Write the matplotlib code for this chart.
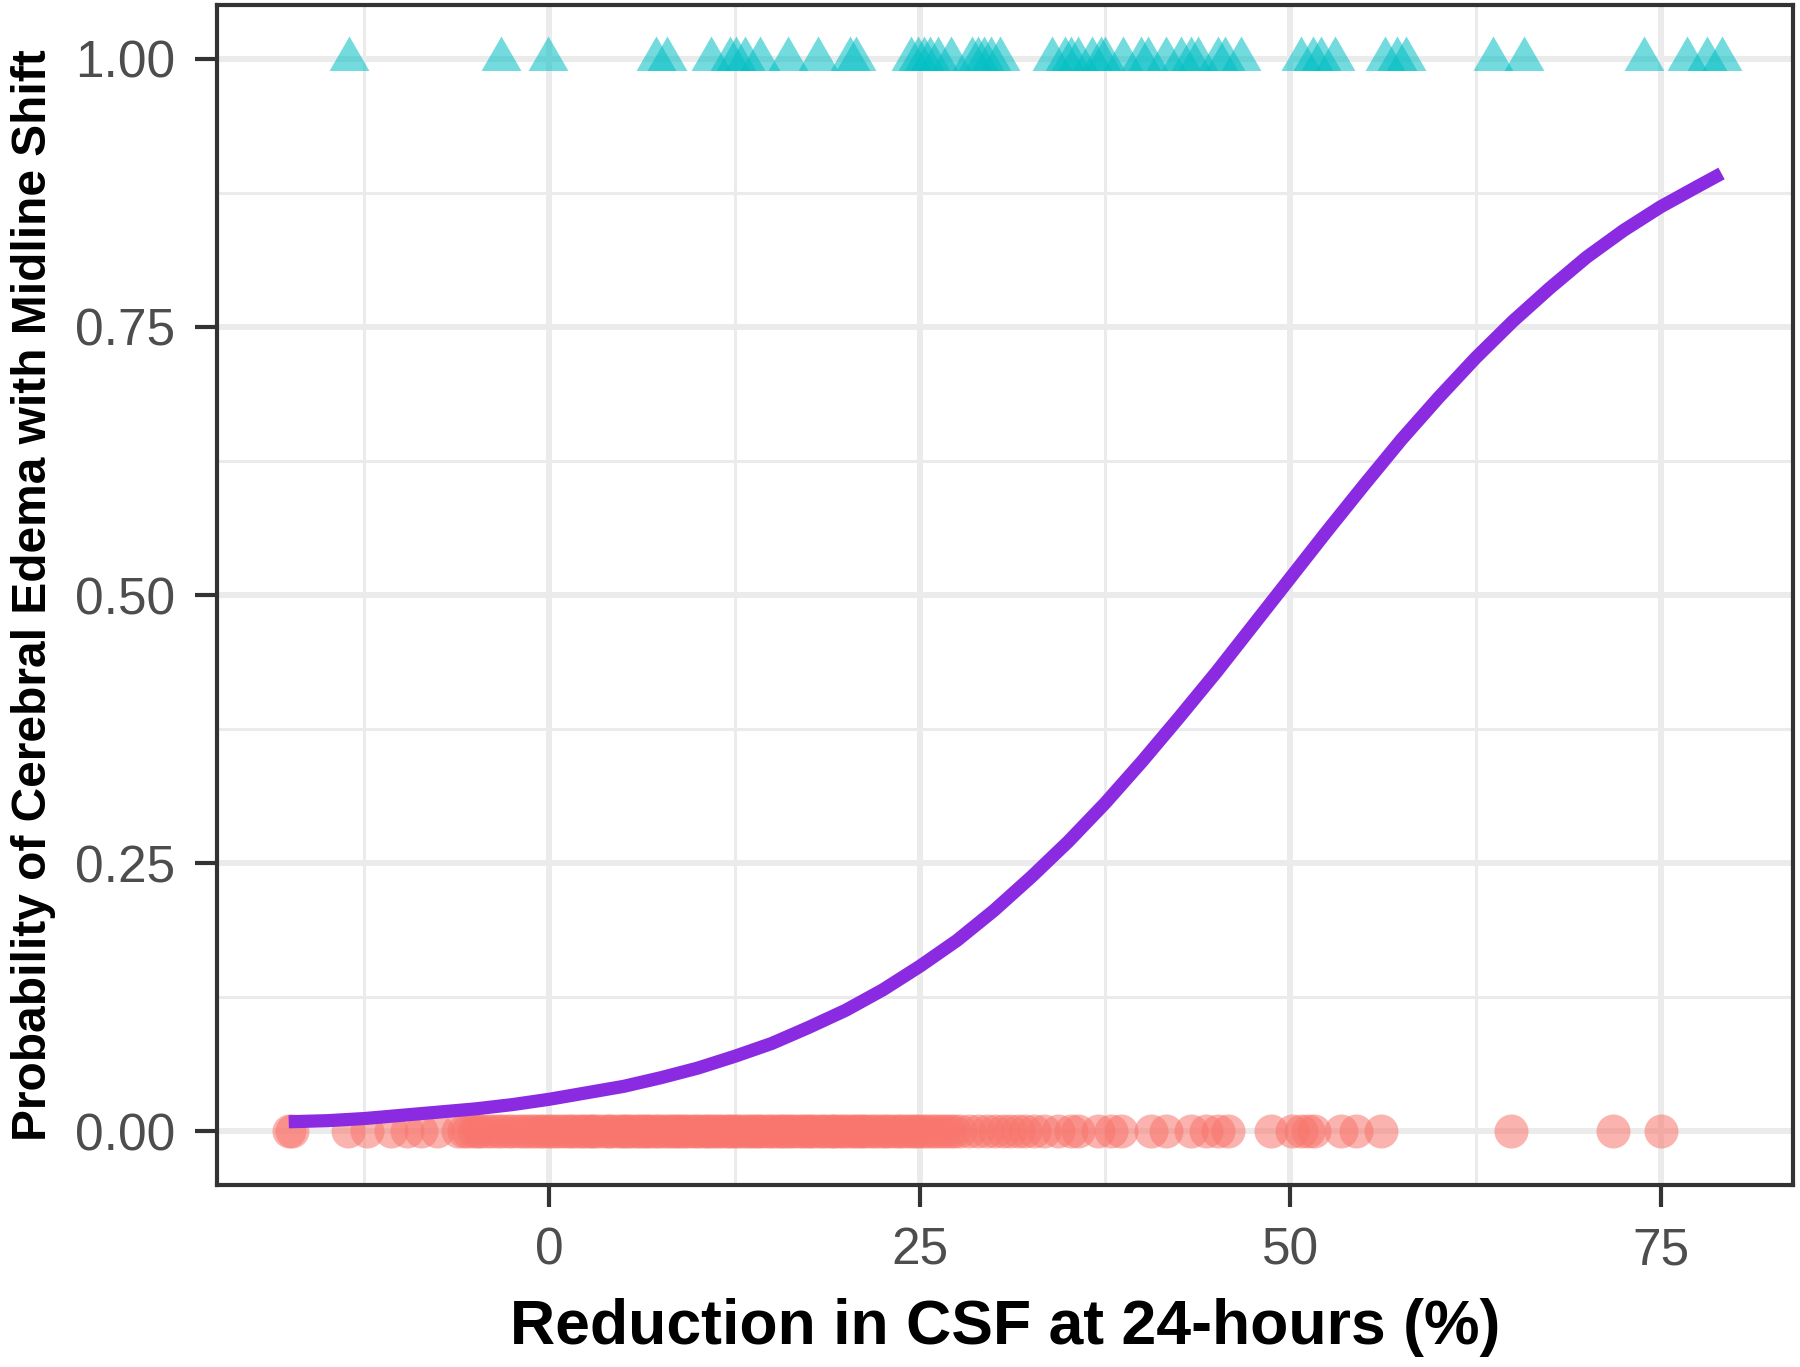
import numpy as np
import matplotlib.pyplot as plt
from matplotlib.ticker import MultipleLocator

# reduction in CSF at 24 h (%) for patients without / with edema + midline shift
no_shift = [-17.6, -17.4, -13.6, -12.3, -10.7, -9.6, -8.7, -7.6, -6.2, -5.8, -5.5,
            -5.1, -4.8, -4.6, -4.2, -3.9, -3.5, -3.2, -2.8, -2.5, -2.1, -1.8,
            -1.5, -1.2, -0.9, -0.6, -0.4, 0.0, 0.2, 0.5, 0.8, 1.1, 1.4, 1.6, 1.9,
            2.2, 2.4, 2.7, 2.9, 3.1, 3.4, 3.8, 4.0, 4.2, 4.6, 4.9, 5.1, 5.3, 5.6,
            5.9, 6.1, 6.4, 6.6, 6.8, 7.1, 7.3, 7.6, 7.9, 8.1, 8.4, 8.6, 8.8, 9.1,
            9.3, 9.6, 9.9, 10.1, 10.4, 10.6, 10.8, 11.1, 11.4, 11.6, 11.9, 12.1,
            12.3, 12.6, 12.8, 13.1, 13.4, 13.6, 13.9, 14.1, 14.3, 14.6, 14.9,
            15.1, 15.4, 15.6, 15.8, 16.1, 16.3, 16.6, 16.9, 17.1, 17.4, 17.6,
            17.8, 18.1, 18.4, 18.6, 18.9, 19.1, 19.3, 19.6, 19.8, 20.1, 20.4,
            20.6, 20.9, 21.1, 21.3, 21.6, 21.9, 22.2, 22.5, 22.7, 23.0, 23.3,
            23.6, 23.8, 24.1, 24.4, 24.7, 24.9, 25.2, 25.5, 25.8, 26.1, 26.4,
            26.7, 27.0, 27.3, 27.7, 28.3, 28.9, 29.5, 30.1, 30.6, 31.1, 31.6,
            32.1, 32.7, 33.4, 34.3, 35.2, 35.7, 37.0, 37.9, 38.6, 40.6, 41.6,
            43.3, 44.3, 45.1, 45.8, 48.7, 50.1, 50.7, 51.2, 51.6, 53.4, 54.4,
            56.1, 64.9, 71.8, 75.0]
shift = [-13.5, -3.3, -0.1, 7.2, 7.9, 10.9, 12.2, 12.6, 13.2, 14.2, 16.1, 18.1,
         20.3, 20.7, 24.4, 24.9, 25.3, 25.7, 26.2, 27.1, 28.5, 28.9, 29.3, 29.8,
         30.4, 33.9, 34.8, 35.2, 35.7, 36.6, 37.2, 37.5, 38.7, 39.9, 40.4, 41.6,
         42.6, 43.3, 43.8, 45.1, 45.6, 46.7, 50.7, 51.5, 52.1, 53.0, 56.4, 57.2,
         57.8, 63.7, 65.8, 73.9, 76.8, 78.1, 79.1]

# fitted probability curve
curve_x = [-17.6, -15, -12.5, -10, -7.5, -5, -2.5, 0, 2.5, 5, 7.5, 10, 12.5, 15,
           17.5, 20, 22.5, 25, 27.5, 30, 32.5, 35, 37.5, 40, 42.5, 45, 47.5, 50,
           52.5, 55, 57.5, 60, 62.5, 65, 67.5, 70, 72.5, 75, 77.5, 79.1]
curve_p = [0.009, 0.010, 0.012, 0.015, 0.018, 0.021, 0.025, 0.030, 0.036, 0.042,
           0.050, 0.059, 0.070, 0.082, 0.097, 0.113, 0.132, 0.154, 0.178, 0.206,
           0.237, 0.270, 0.306, 0.345, 0.386, 0.428, 0.472, 0.516, 0.560, 0.603,
           0.645, 0.684, 0.721, 0.755, 0.786, 0.815, 0.840, 0.862, 0.881, 0.893]

fig = plt.figure(figsize=(18, 13.67), dpi=100)
ax = fig.add_axes([0.1206, 0.1331, 0.8756, 0.8632])

tri = [(-1, -0.577), (1, -0.577), (0, 1.155)]
ax.scatter(no_shift, np.zeros(len(no_shift)), s=600, color='#F8766D', alpha=0.55,
           linewidths=0, zorder=3)
ax.scatter(shift, np.ones(len(shift)), s=1100, marker=tri, color='#00BFC4',
           alpha=0.55, linewidths=0, zorder=3)
ax.plot(curve_x, curve_p, color='#8A2BE2', lw=9.5, solid_capstyle='butt',
        solid_joinstyle='round', zorder=4)

lo = min(no_shift + shift)
hi = max(no_shift + shift)
pad = (hi - lo) * 0.05
ax.set_xlim(lo - pad, hi + pad)
ax.set_ylim(-0.05, 1.05)

ax.xaxis.set_major_locator(MultipleLocator(25))
ax.xaxis.set_minor_locator(MultipleLocator(12.5))
ax.yaxis.set_major_locator(MultipleLocator(0.25))
ax.yaxis.set_minor_locator(MultipleLocator(0.125))
ax.yaxis.set_major_formatter(lambda v, p: f'{v:.2f}')

ax.grid(which='major', color='#EBEBEB', lw=4.3)
ax.grid(which='minor', color='#EBEBEB', lw=2.2)
ax.set_axisbelow(True)

for sp in ax.spines.values():
    sp.set_color('#333333')
    sp.set_linewidth(3)

ax.tick_params(which='major', length=16, width=3, color='#333333',
               labelsize=37, labelcolor='#4D4D4D')
ax.tick_params(axis='y', pad=14)
ax.tick_params(axis='x', pad=14)
ax.tick_params(which='minor', length=0)
for lab in ax.get_xticklabels() + ax.get_yticklabels():
    lab.set_family('Liberation Sans')

ax.set_xlabel('Reduction in CSF at 24-hours (%)', fontsize=45, fontweight='bold',
              family='Liberation Sans', labelpad=16)
ax.set_ylabel('Probability of Cerebral Edema with Midline Shift', fontsize=34.5,
              fontweight='bold', family='Liberation Sans', labelpad=14)

fig.savefig('out.png', dpi=100)
